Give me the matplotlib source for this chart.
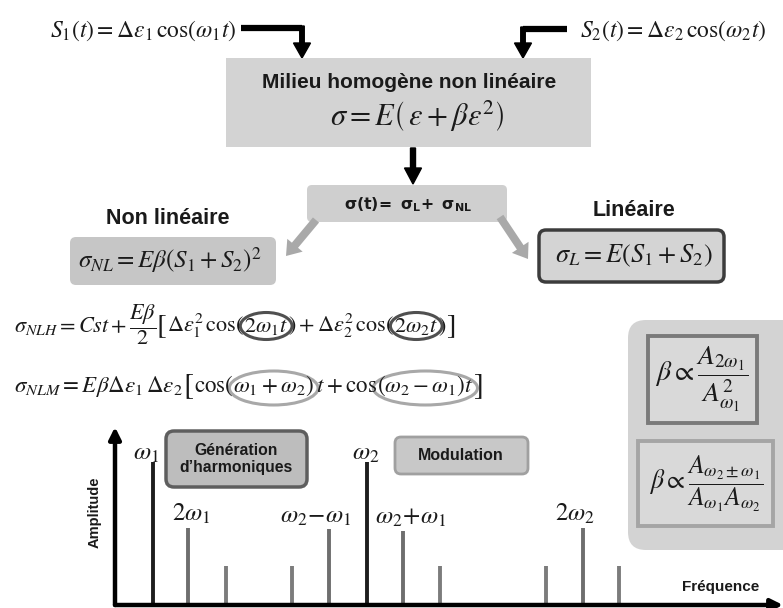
import matplotlib
matplotlib.use("Agg")
import matplotlib.pyplot as plt
from matplotlib.patches import FancyBboxPatch, FancyArrow, Ellipse, Rectangle
import numpy as np

plt.rcParams['mathtext.fontset'] = 'stix'
plt.rcParams['font.family'] = ['Liberation Sans', 'DejaVu Sans']

# spectre : positions des raies (unites de frequence arbitraires) et amplitudes
freq = [1.0, 1.95, 2.95, 4.7, 5.7, 6.7, 7.65, 8.65, 11.45, 12.45, 13.4]
ampl = [1.0, 0.54, 0.27, 0.27, 0.53, 1.0, 0.52, 0.27, 0.27, 0.54, 0.27]
kind = ['fond', 'harm', 'autre', 'autre', 'mod', 'fond', 'mod', 'autre', 'autre', 'harm', 'autre']
raie_labels = {0: r'$\omega_1$', 1: r'$2\omega_1$', 4: r'$\omega_2\!-\!\omega_1$',
               5: r'$\omega_2$', 6: r'$\omega_2\!+\!\omega_1$', 9: r'$2\omega_2$'}

W, H = 783, 608
fig = plt.figure(figsize=(W / 100, H / 100), dpi=100)
ax = fig.add_axes([0, 0, 1, 1])
ax.set_xlim(0, W)
ax.set_ylim(H, 0)
ax.axis('off')
rend = fig.canvas.get_renderer()

def box(x0, y0, x1, y1, fc, ec='none', lw=0, r=6, **kw):
    p = FancyBboxPatch((x0 + r, y0 + r), x1 - x0 - 2 * r, y1 - y0 - 2 * r,
                       boxstyle="round,pad=%g" % r, fc=fc, ec=ec, lw=lw, **kw)
    ax.add_patch(p)
    return p

def eq(x, y, s, size, ha='left', **kw):
    ax.text(x, y, s, fontsize=size, ha=ha, va='center', math_fontfamily='stix',
            color='#1a1a1a', **kw)

def bold(x, y, s, size, ha='center', **kw):
    ax.text(x, y, s, fontsize=size, ha=ha, va='center', fontweight='bold',
            color='#1a1a1a', **kw)

def chain(x, y, pieces, size):
    # ecrit les morceaux bout a bout sur la meme ligne de base, renvoie leurs bornes en x
    spans = []
    for s, k, dy in pieces:
        t = ax.text(x, y + dy, s, fontsize=size * k, ha='left', va='baseline',
                    math_fontfamily='stix', color='#1a1a1a')
        bb = t.get_window_extent(renderer=rend)
        x1 = ax.transData.inverted().transform((bb.x1, bb.y0))[0]
        spans.append((x, x1))
        x = x1
    return spans

# entrees S1, S2
eq(50, 31, r'$S_1(t) = \Delta\varepsilon_1\,\cos(\omega_1 t)$', 17)
eq(580, 31, r'$S_2(t) = \Delta\varepsilon_2\,\cos(\omega_2 t)$', 17)
ax.plot([241, 302], [28, 28], color='black', lw=4.5, solid_capstyle='butt')
ax.add_patch(FancyArrow(302, 26, 0, 32, width=4.5, head_width=17, head_length=15,
                        length_includes_head=True, color='black'))
ax.plot([567, 523], [29, 29], color='black', lw=4.5, solid_capstyle='butt')
ax.add_patch(FancyArrow(523, 27, 0, 31, width=4.5, head_width=17, head_length=15,
                        length_includes_head=True, color='black'))

# milieu non lineaire
ax.add_patch(Rectangle((226, 58), 365, 89, fc='#d3d3d3', ec='none'))
bold(409, 82, 'Milieu homogène non linéaire', 15)
eq(417, 116, r'$\sigma = E\left(\,\varepsilon + \beta\varepsilon^2\right)$', 22, ha='center')
ax.add_patch(FancyArrow(413, 148, 0, 36, width=5, head_width=17, head_length=16,
                        length_includes_head=True, color='black'))

# decomposition
box(307, 185, 507, 222, '#cfcfcf', r=5)
ax.text(408, 205, r'$\mathbf{\sigma(t)\!=\ \sigma_L\!+\ \sigma_{NL}}$', fontsize=11.3,
        ha='center', va='center', math_fontfamily='dejavusans', color='#1a1a1a')
ax.add_patch(FancyArrow(316, 220, -30, 36, width=8, head_width=20, head_length=14,
                        length_includes_head=True, color='#a9a9a9', ec='none'))
ax.add_patch(FancyArrow(500, 217, 28, 42, width=8, head_width=20, head_length=14,
                        length_includes_head=True, color='#a9a9a9', ec='none'))

bold(168, 218, 'Non linéaire', 15.5)
box(70, 237, 276, 285, '#c6c6c6', r=6)
eq(170, 260, r'$\sigma_{NL} = E\beta\left(S_1 + S_2\right)^2$', 18, ha='center')

bold(634, 211, 'Linéaire', 15.5)
box(539, 230, 724, 282, '#d4d4d4', ec='#3c3c3c', lw=2.5, r=7)
eq(634, 256, r'$\sigma_L = E(S_1 + S_2)$', 19, ha='center')

# termes non lineaires (harmoniques et modulation)
nlh = chain(14, 332, [(r'$\sigma_{NLH} = Cst + \dfrac{E\beta}{2}$', 1, 0),
                      (r'$[$', 1.3, 2),
                      (r'$\Delta\varepsilon_1^2\,\cos($', 1, 0),
                      (r'$2\omega_1 t$', 1, 0),
                      (r'$) + \Delta\varepsilon_2^2\,\cos($', 1, 0),
                      (r'$2\omega_2 t$', 1, 0),
                      (r'$)$', 1, 0),
                      (r'$]$', 1.3, 2)], 16)
nlm = chain(14, 392, [(r'$\sigma_{NLM} = E\beta\Delta\varepsilon_1\,\Delta\varepsilon_2$', 1, 0),
                      (r'$[$', 1.3, 2),
                      (r'$\cos($', 1, 0),
                      (r'$\omega_1 + \omega_2)$', 1, 0),
                      (r'$\,t + \cos$', 1, 0),
                      (r'$(\omega_2 - \omega_1)t$', 1, 0),
                      (r'$]$', 1.3, 2)], 16.6)
for (a, b), cy, pad, h, c in [(nlh[3], 326, 8, 27, '#505050'), (nlh[5], 326, 8, 27, '#505050'),
                              (nlm[3], 388, 8, 34, '#a8a8a8'), (nlm[5], 388, 8, 34, '#a8a8a8')]:
    ax.add_patch(Ellipse(((a + b) / 2, cy), b - a + pad, h, fc='none', ec=c, lw=2.2))

# encadre beta
box(628, 320, 800, 550, '#d3d3d3', r=18, clip_on=True)
ax.add_patch(Rectangle((648, 336), 109, 87, fc='#d9d9d9', ec='#7a7a7a', lw=2.8))
eq(702, 379, r'$\beta \propto \dfrac{A_{2\omega_1}}{A_{\omega_1}^2}$', 20, ha='center')
ax.add_patch(Rectangle((638, 441), 135, 85, fc='#d9d9d9', ec='#a5a5a5', lw=2.8))
eq(706, 484, r'$\beta \propto \dfrac{A_{\omega_2 \pm \omega_1}}{A_{\omega_1} A_{\omega_2}}$', 18.5, ha='center')

# boites du spectre
box(166, 431, 307, 487, '#bdbdbd', ec='#5e5e5e', lw=2.5, r=8)
bold(236, 459, 'Génération\nd’harmoniques', 11.3, linespacing=1.2)
box(395, 437, 528, 474, '#c8c8c8', ec='#a0a0a0', lw=2, r=6)
bold(461, 455, 'Modulation', 11.5)

# spectre
x0, y0, y1 = 115, 605, 427
sp = fig.add_axes([x0 / W, (H - y0) / H, (W - x0) / W, (y0 - y1) / H])
sp.patch.set_visible(False)
for s in sp.spines.values():
    s.set_visible(False)
sp.set_xticks([])
sp.set_yticks([])
sp.set_xlim(0, (W - x0) / 37.6)
sp.set_ylim(0, 1.245)
couleurs = {'fond': '#1e1e1e', 'harm': '#6e6e6e', 'mod': '#6e6e6e', 'autre': '#7c7c7c'}
sp.vlines(freq, 0, ampl, colors=[couleurs[k] for k in kind], lw=2.8)
decal = {0: (-5, -2), 1: (2, 1), 4: (-10, 1), 5: (-1, -2), 6: (6, 1), 9: (-6, 1)}
for i, lab in raie_labels.items():
    sp.annotate(lab, (freq[i], ampl[i]), xytext=decal[i], textcoords='offset points',
                ha='center', va='bottom', fontsize=18, math_fontfamily='stix', color='#1a1a1a')
sp.annotate('', xy=(1.0, 0), xytext=(0, 0), xycoords='axes fraction',
            arrowprops=dict(arrowstyle='-|>,head_width=0.35,head_length=0.7', lw=3.2, color='black',
                            shrinkA=0, shrinkB=0))
sp.annotate('', xy=(0, 1.0), xytext=(0, 0), xycoords='axes fraction',
            arrowprops=dict(arrowstyle='-|>,head_width=0.35,head_length=0.7', lw=3.2, color='black',
                            shrinkA=0, shrinkB=0))
sp.text(-0.02, 0.52, 'Amplitude', transform=sp.transAxes, rotation=90, ha='right', va='center',
        fontsize=10.5, fontweight='bold', color='#1a1a1a')
sp.text(0.965, 0.1, 'Fréquence', transform=sp.transAxes, ha='right', va='center',
        fontsize=11, fontweight='bold', color='#1a1a1a')

fig.savefig('out.png', dpi=100)
